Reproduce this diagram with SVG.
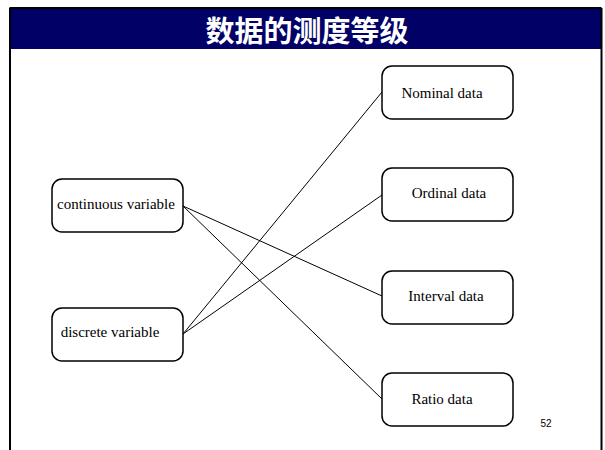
<svg xmlns="http://www.w3.org/2000/svg" width="605" height="450" viewBox="0 0 605 450">
<style>
.box{fill:#ffffff;stroke:#000000;stroke-width:1.5}
.conn line{stroke:#000000;stroke-width:1}
.lbl{font-family:'Liberation Serif','Times New Roman',serif;font-size:15px;text-anchor:middle;fill:#000000}
</style>
<rect x="0" y="0" width="605" height="450" fill="#ffffff"/>
<g id="frame">
<rect x="9.5" y="8" width="592" height="41" fill="#000066"/>
<line x1="9.5" y1="8" x2="601.5" y2="8" stroke="#000000" stroke-width="2"/>
<line x1="10" y1="8" x2="10" y2="450" stroke="#000000" stroke-width="2"/>
<line x1="601.5" y1="8" x2="601.5" y2="450" stroke="#000000" stroke-width="2"/>
<text x="307" y="42" font-family="'Noto Sans CJK SC', sans-serif" font-size="29" font-weight="bold" fill="#ffffff" text-anchor="middle">数据的测度等级</text>
</g>
<g id="connectors" class="conn">
<line x1="183" y1="206" x2="382" y2="296"/>
<line x1="183" y1="206" x2="382" y2="399"/>
<line x1="183" y1="334" x2="382" y2="92"/>
<line x1="183" y1="334" x2="382" y2="195"/>
</g>
<g id="continuous">
<rect class="box" x="52" y="179" width="131" height="53" rx="10"/>
<text class="lbl" x="116" y="209">continuous variable</text>
</g>
<g id="discrete">
<rect class="box" x="52" y="308" width="131" height="53" rx="10"/>
<text class="lbl" x="110" y="337">discrete variable</text>
</g>
<g id="nominal">
<rect class="box" x="382" y="66" width="131" height="53" rx="10"/>
<text class="lbl" x="442" y="98">Nominal data</text>
</g>
<g id="ordinal">
<rect class="box" x="382" y="168" width="131" height="53" rx="10"/>
<text class="lbl" x="449" y="198">Ordinal data</text>
</g>
<g id="interval">
<rect class="box" x="382" y="271" width="131" height="53" rx="10"/>
<text class="lbl" x="446" y="301">Interval data</text>
</g>
<g id="ratio">
<rect class="box" x="382" y="373" width="131" height="53" rx="10"/>
<text class="lbl" x="442" y="404">Ratio data</text>
</g>
<text x="546" y="427" font-family="'Liberation Sans', Arial, sans-serif" font-size="10" fill="#000000" text-anchor="middle">52</text>
</svg>
